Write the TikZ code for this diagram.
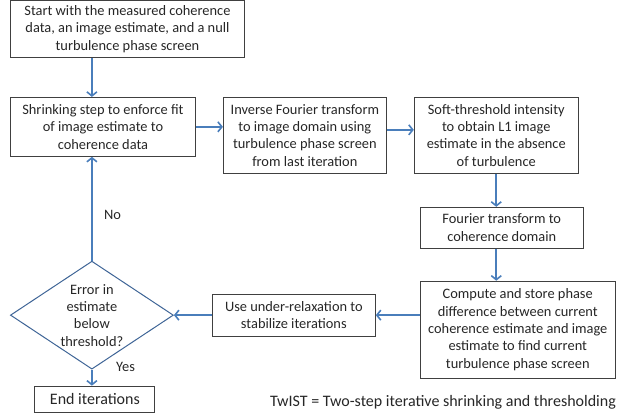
\documentclass[tikz,border=0pt]{standalone}
\usepackage{fontspec}
\setmainfont{Carlito}
\usetikzlibrary{shapes,arrows.meta,positioning}
\definecolor{flowblue}{RGB}{74,126,187}
\definecolor{edgegray}{RGB}{64,64,64}
\definecolor{diamondblue}{RGB}{62,100,150}
\tikzstyle{block} = [rectangle, draw=edgegray, line width=0.9pt, align=center, inner sep=2pt, text=black!85, font=\fontsize{14.4}{17.3}\selectfont]
\tikzstyle{decision} = [diamond, draw=diamondblue, line width=1pt, inner sep=0pt, minimum width=163pt, minimum height=108pt]
\tikzstyle{line} = [draw=flowblue, line width=1.8pt, -{Straight Barb[length=4pt,width=10pt,line width=1.6pt]}]
\tikzstyle{tag} = [text=black!85, font=\fontsize{14.4}{17.3}\selectfont]

\begin{document}
\begin{tikzpicture}[node distance = 2cm, auto]
    \useasboundingbox (0,0) rectangle (621pt,-419pt);
    % Place nodes
    \node [block, anchor=north west, minimum width=234pt, minimum height=57pt] (start) at (10pt,0pt) {Start with the measured coherence\\data, an image estimate, and a null\\turbulence phase screen};
    \node [block, below right=39pt and 0pt of start.south west, minimum width=185pt, minimum height=59pt] (shrink) {Shrinking step to enforce fit\\of image estimate to\\coherence data};
    \node [block, right=27pt of shrink.north east, anchor=north west, minimum width=163pt, minimum height=76pt] (inverse) {Inverse Fourier transform\\to image domain using\\turbulence phase screen\\from last iteration};
    \node [block, right=27pt of inverse.north east, anchor=north west, minimum width=164pt, minimum height=76pt] (soft) {Soft-threshold intensity\\to obtain L1 image\\estimate in the absence\\of turbulence};
    \node [block, below right=33pt and 6pt of soft.south west, minimum width=163pt, minimum height=41pt] (fourier) {Fourier transform to\\coherence domain};
    \node [block, below right=32pt and 0pt of fourier.south west, minimum width=195pt, minimum height=97pt] (compute) {Compute and store phase\\difference between current\\coherence estimate and image\\estimate to find current\\turbulence phase screen};
    \node [block, below left=13pt and 44pt of compute.north west, minimum width=163pt, minimum height=42pt] (relax) {Use under-relaxation to\\stabilize iterations};
    \node [decision, left=38pt of relax, label={[tag, align=center]center:Error in\\estimate\\below\\threshold?}] (check) {};
    \node [block, below=16pt of check, xshift=3pt, minimum width=120pt, minimum height=26pt, font=\fontsize{16}{19}\selectfont] (finish) {End iterations};
    \node [tag, font=\fontsize{16}{19}\selectfont] (twist) at (443pt,-402pt) {TwIST = Two-step iterative shrinking and thresholding};

    % Draw edges
    \path [line] (start.south -| check.north) -- (shrink.north -| check.north);
    \path [line] (shrink.east) -- (shrink.east -| inverse.west);
    \path [line] ([yshift=5.5pt]inverse.east) -- ([yshift=5.5pt]inverse.east -| soft.west);
    \path [line] (soft.south) -- (soft.south |- fourier.north);
    \path [line] (fourier.south -| soft.south) -- (compute.north -| soft.south);
    \path [line] (compute.west |- relax.east) -- (relax.east);
    \path [line] (relax.west) -- (check.east);
    \path [line] (check.north) -- node[tag, pos=0.44, right=8pt] {No} (check.north |- shrink.south);
    \path [line] (check.south) -- node[tag, pos=0, right=20pt, yshift=3pt] {Yes} (check.south |- finish.north);
\end{tikzpicture}
\end{document}
